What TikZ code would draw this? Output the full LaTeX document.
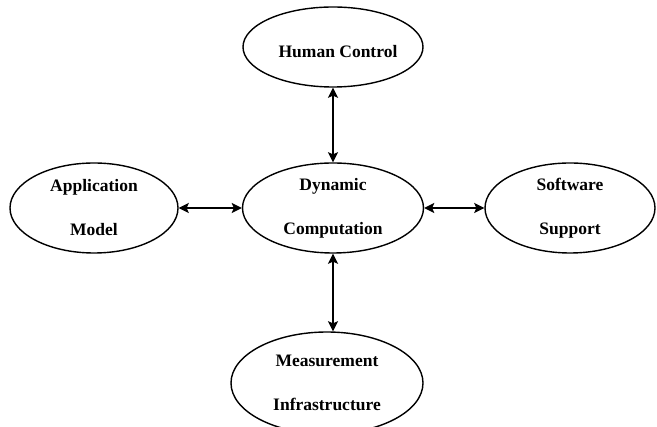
\documentclass[tikz,border=0pt]{standalone}
\usepackage{fontspec}
\setmainfont{Liberation Serif}
\usetikzlibrary{shapes.geometric,arrows.meta}
\begin{document}
\begin{tikzpicture}[x=1pt,y=-1pt,
  blob/.style={ellipse,draw=black,line width=1.4pt,inner sep=0pt,
    align=center,font=\fontsize{17.5}{44}\selectfont\bfseries},
  caption/.style={inner sep=0pt,font=\fontsize{17.5}{44}\selectfont\bfseries},
  link/.style={line width=2.4pt,{Stealth[length=10pt,width=10pt,inset=2pt]}-{Stealth[length=10pt,width=10pt,inset=2pt]}}]
\path[clip,use as bounding box] (0,0) rectangle (657,427);
\fill[white] (0,0) rectangle (657,427);

\node[blob,minimum width=180pt,minimum height=80pt] (hc) at (333,47) {};
\node[caption] (hctext) at (338,52) {Human Control};
\node[blob,minimum width=181pt,minimum height=90pt] (dc) at (333,208) {Dynamic\\Computation};
\node[blob,minimum width=168pt,minimum height=90pt] (am) at (94,208) {Application\\Model};
\node[blob,minimum width=170pt,minimum height=90pt] (ss) at (570,208) {Software\\Support};
\node[blob,minimum width=192pt,minimum height=102pt] (mi) at (327,383) {Measurement\\Infrastructure};

\draw[link] (hc.south) -- (dc.north);
\draw[link] (am.east) -- (dc.west);
\draw[link] (dc.east) -- (ss.west);
\draw[link] (dc.south) -- (dc.south |- mi.north);
\end{tikzpicture}
\end{document}
